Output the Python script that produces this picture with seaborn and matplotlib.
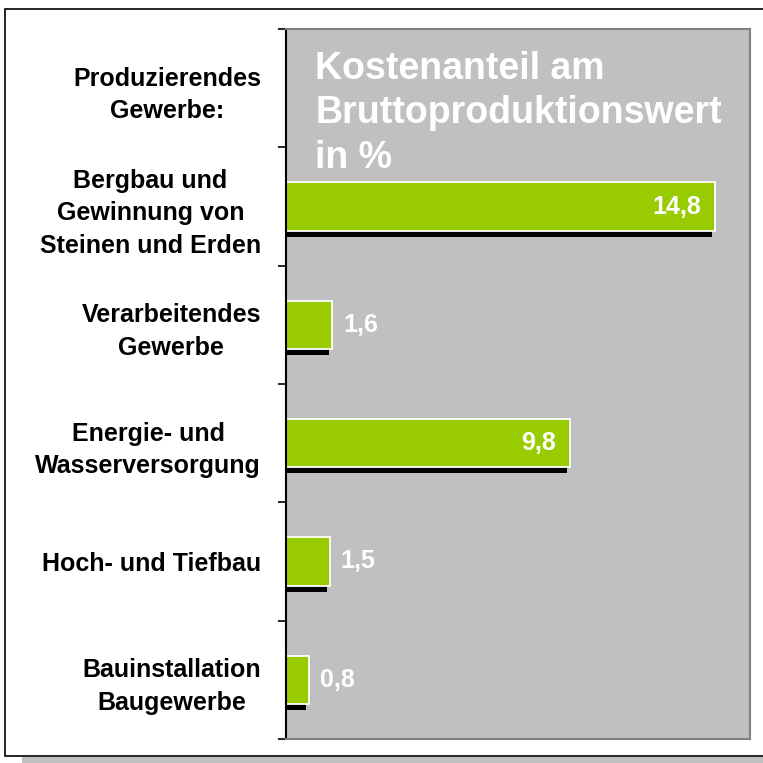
import matplotlib
matplotlib.use("Agg")
import matplotlib.pyplot as plt
import matplotlib.transforms as mtransforms
from matplotlib.patches import Rectangle
import seaborn as sns
import pandas as pd
import numpy as np

header = "Produzierendes\nGewerbe:"
categories = [
    "Bergbau und\nGewinnung von\nSteinen und Erden",
    "Verarbeitendes\nGewerbe",
    "Energie- und\nWasserversorgung",
    "Hoch- und Tiefbau",
    "Bauinstallation\nBaugewerbe",
]
values = [14.8, 1.6, 9.8, 1.5, 0.8]
value_labels = ["14,8", "1,6", "9,8", "1,5", "0,8"]
title_text = "Kostenanteil am\nBruttoproduktionswert\nin %"

sns.set_theme(style="white")
plt.rcParams["font.family"] = ["Liberation Sans", "DejaVu Sans"]

df = pd.DataFrame({"Bereich": categories, "Wert": values})
order = [header] + categories

W = H = 763
fig = plt.figure(figsize=(7.63, 7.63), dpi=100)
fig.patch.set_facecolor("white")

# outer frame with shadow
fig.patches.append(Rectangle((22 / W, -0.2), 1.5, (H - 757) / H + 0.2,
                             transform=fig.transFigure, facecolor="#c0c0c0",
                             edgecolor="none", zorder=-3))
fig.patches.append(Rectangle((5 / W, (H - 756) / H), 1.5, (756 - 9) / H,
                             transform=fig.transFigure, facecolor="white",
                             edgecolor="black", lw=1.2, zorder=-2))

ax = fig.add_axes([286 / W, (H - 739) / H, 464 / W, 710 / H])
ax.set_zorder(1)
ax.set_facecolor("#c0c0c0")

# shadows
sns.barplot(data=df, x="Wert", y="Bereich", order=order, color="black",
            width=0.41, saturation=1, edgecolor="none", linewidth=0, ax=ax)
shift = mtransforms.ScaledTranslation(-0.03, -0.06, fig.dpi_scale_trans)
for p in list(ax.patches):
    p.set_transform(ax.transData + shift)
    p.set_zorder(1)

# bars
sns.barplot(data=df, x="Wert", y="Bereich", order=order, color="#99cc00",
            width=0.41, saturation=1, edgecolor="white", linewidth=1.3, ax=ax)

ax.set_xlim(0, 16)
ax.set_ylim(len(order) - 0.5, -0.5)
ax.set_xticks([])
ax.set_xlabel("")
ax.set_ylabel("")

bounds = np.arange(len(order) + 1) - 0.5
ax.set_yticks(bounds, labels=[""] * len(bounds))
ax.set_yticks(np.arange(len(order)), labels=order, minor=True)
ax.tick_params(axis="y", which="major", left=True, length=6, width=1.2,
               color="black", labelleft=False)
ax.tick_params(axis="y", which="minor", left=True, length=0, pad=18,
               labelsize=18, labelcolor="black")
for lbl in ax.get_yticklabels(minor=True):
    lbl.set_fontweight("bold")
    lbl.set_ha("right")
    lbl.set_multialignment("center")
    lbl.set_linespacing(1.45)

for s in ["top", "right", "bottom"]:
    ax.spines[s].set_color("#808080")
    ax.spines[s].set_linewidth(1.5)
ax.spines["left"].set_color("black")
ax.spines["left"].set_linewidth(1.5)

for cat, v, lab in zip(categories, values, value_labels):
    yi = order.index(cat)
    if v > 5:
        ax.annotate(lab, (v, yi), xytext=(-10, 0), textcoords="offset points",
                    ha="right", va="center", color="white", fontsize=18,
                    fontweight="bold", zorder=5)
    else:
        ax.annotate(lab, (v, yi), xytext=(8, 0), textcoords="offset points",
                    ha="left", va="center", color="white", fontsize=18,
                    fontweight="bold", zorder=5)

ax.text(0.0625, 0.881, title_text, transform=ax.transAxes, color="white",
        fontsize=27, fontweight="bold", ha="left", va="center",
        linespacing=1.3, zorder=5)

fig.savefig("out.png", dpi=100, facecolor="white")
